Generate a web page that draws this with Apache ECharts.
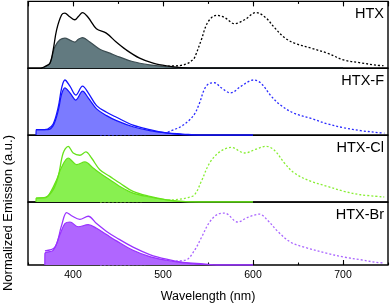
<!DOCTYPE html>
<html><head><meta charset="utf-8">
<script src="https://cdn.jsdelivr.net/npm/echarts@6/dist/echarts.min.js"></script>
<style>html,body{margin:0;padding:0;background:#fff}#c{width:390px;height:304px}</style>
</head><body><div id="c"></div>
<script>
var names = ['HTX', 'HTX-F', 'HTX-Cl', 'HTX-Br'];
var xTicks = [400, 500, 600, 700];

// filled emission curves [nm, normalized]
var fillHTX = [[366,0],[368.8,0.02],[374.4,0.09],[380,0.39],[385.5,0.51],[391,0.54],[397,0.5],[402,0.47],[406,0.52],[410.6,0.55],[418.7,0.47],[429.8,0.34],[441,0.27],[452,0.2],[466,0.12],[485,0.06],[502,0.03],[518,0.005],[540,0],[700,0]];
var upperHTX = [[365,0],[368.8,0.03],[374.4,0.09],[378,0.33],[381.8,0.69],[387.4,0.96],[391,0.99],[396,0.93],[402,0.87],[406,0.93],[410.6,1.0],[416.5,0.92],[426,0.71],[437,0.63],[448,0.47],[459,0.33],[474,0.18],[489,0.09],[504,0.04],[520,0.01],[540,0],[700,0]];
var dashHTX = [[430,0],[470,0.01],[496,0.03],[510,0.04],[520,0.05],[528,0.09],[533,0.15],[535.1,0.19],[542.6,0.51],[549.6,0.82],[559.2,0.95],[568.4,0.91],[579.5,0.80],[590.6,0.87],[603.5,1.0],[614.6,0.90],[623.8,0.73],[634.9,0.55],[646,0.45],[664.5,0.36],[682.6,0.27],[701.4,0.145],[719.9,0.096],[736.6,0.055],[745,0.045]];

var fillF = [[358.9,0],[359,0.1],[368,0.1],[372,0.1],[378,0.17],[383.6,0.44],[387.4,0.74],[391,0.85],[396.6,0.76],[403.2,0.63],[410.6,0.79],[416.9,0.67],[426.2,0.47],[437.3,0.35],[448.3,0.26],[466.7,0.15],[485.3,0.08],[503.8,0.04],[521.8,0.02],[540,0],[600,0]];
var upperF = [[359,0.1],[368,0.1],[372,0.11],[378,0.2],[383.6,0.5],[387.4,0.85],[391,0.99],[396.6,0.88],[403.2,0.72],[410.6,0.88],[416.9,0.76],[426.2,0.53],[437.3,0.41],[448.3,0.32],[466.7,0.18],[485.3,0.1],[503.8,0.04],[520,0.01],[540,0],[600,0]];
var dashF = [[430,0],[480,0.01],[500,0.03],[510.8,0.09],[518.5,0.14],[528,0.25],[535.1,0.38],[540.7,0.58],[546.2,0.83],[551.8,0.93],[557.3,0.94],[564.7,0.85],[575,0.76],[586.9,0.88],[596,0.97],[600.9,0.99],[609,0.93],[620.2,0.7],[631.3,0.53],[646,0.39],[664.5,0.30],[682.9,0.2],[701.4,0.13],[719.9,0.08],[742.1,0.04],[746,0.035]];

var fillCl = [[358.9,0],[359,0.07],[370,0.08],[374.4,0.16],[381.8,0.40],[387.4,0.63],[394.7,0.79],[400,0.72],[404,0.67],[413.2,0.72],[422.4,0.61],[429.8,0.52],[440.9,0.40],[452,0.28],[466.7,0.16],[485.3,0.09],[503.8,0.04],[520,0.01],[540,0],[600,0]];
var upperCl = [[359,0.07],[370,0.09],[378,0.22],[383.6,0.46],[389.1,0.88],[394.7,1.0],[400.2,0.88],[407.6,0.84],[414.3,0.9],[420.6,0.79],[429.8,0.58],[440.9,0.46],[452,0.34],[466.7,0.19],[485.3,0.1],[503.8,0.04],[520,0.01],[540,0],[600,0]];
var dashCl = [[430,0],[480,0.01],[505,0.03],[518.5,0.05],[528,0.08],[535.1,0.13],[542.6,0.37],[551.8,0.70],[562.9,0.9],[575.8,0.98],[590.6,0.88],[603.5,0.95],[614.6,1.0],[623.8,0.93],[634.9,0.70],[646,0.52],[664.5,0.37],[682.9,0.28],[701.4,0.19],[719.9,0.13],[745.8,0.09]];

var fillBr = [[368.7,0],[368.8,0.22],[378,0.28],[385.5,0.58],[391,0.79],[396.6,0.82],[405.8,0.73],[416.9,0.77],[426.2,0.70],[437.3,0.58],[448.3,0.46],[466.7,0.28],[485.3,0.16],[503.8,0.09],[522.2,0.04],[545,0.01],[560,0],[600,0]];
var upperBr = [[368.8,0.27],[379.9,0.34],[387.4,0.76],[392.9,1.0],[398.4,0.94],[407.6,0.87],[416.9,0.93],[426.2,0.79],[437.3,0.64],[448.3,0.52],[466.7,0.34],[485.3,0.2],[503.8,0.11],[522.2,0.05],[545,0.02],[560,0],[600,0]];
var dashBr = [[430,0],[480,0.01],[500,0.03],[511.1,0.07],[526,0.10],[535,0.28],[542.6,0.52],[551.8,0.82],[561,0.97],[568.4,0.99],[583.1,0.82],[594.2,0.91],[607.2,0.97],[616.4,0.85],[627.5,0.64],[642.3,0.43],[657.1,0.34],[682.9,0.22],[701.4,0.15],[719.9,0.1],[736.6,0.05],[745,0.04]];

var fills = [fillHTX, fillF, fillCl, fillBr];
var uppers = [upperHTX, upperF, upperCl, upperBr];
var dashes = [dashHTX, dashF, dashCl, dashBr];

var fillColor = ['#627a80', '#7b7bff', '#88f050', '#b066ff'];
var edgeColor = ['#3c4d52', '#1414ff', '#66e21a', '#9933ff'];
var upperColor = ['#000000', '#1414ff', '#66e21a', '#9933ff'];
var dashColor = ['#000000', '#2a2aff', '#88ee33', '#aa66ff'];

var FONT = 'Liberation Sans, Arial, sans-serif';
var tops = [1.4, 68.3, 135.2, 202.1];
var H = 66.8;

var grids = [], xAxes = [], yAxes = [], series = [], graphics = [];
for (var i = 0; i < 4; i++) {
  grids.push({left: 28, right: 2, top: tops[i], height: H, show: true, borderColor: '#000', borderWidth: 1.4, backgroundColor: 'transparent'});
  xAxes.push({
    type: 'value', gridIndex: i, min: 350, max: 750, position: 'bottom',
    show: i === 3,
    axisLine: {show: false},
    axisTick: {show: true, inside: true, length: 5, lineStyle: {color: '#000', width: 1.1}},
    axisLabel: {show: true, showMinLabel: false, showMaxLabel: false, fontSize: 10.5, color: '#000', fontFamily: FONT, margin: 5,
      formatter: function (v) { return xTicks.indexOf(v) >= 0 ? String(v) : ''; }},
    splitLine: {show: false},
    name: i === 3 ? 'Wavelength (nm)' : '', nameLocation: 'middle', nameGap: 25,
    nameTextStyle: {fontSize: 12.5, color: '#000', fontFamily: FONT}
  });
  yAxes.push({type: 'value', gridIndex: i, min: 0, max: 1.2, show: false, splitLine: {show: false}});
}
// extra tick axes
xAxes.push({type: 'value', gridIndex: 0, min: 350, max: 750, position: 'top',
  axisLine: {show: false}, axisLabel: {show: false}, splitLine: {show: false},
  axisTick: {show: true, inside: true, length: 5, lineStyle: {color: '#000', width: 1.1}}});
xAxes.push({type: 'value', gridIndex: 0, min: 350, max: 750, interval: 50, position: 'top',
  axisLine: {show: false}, axisLabel: {show: false}, splitLine: {show: false},
  axisTick: {show: true, inside: true, length: 2.5, lineStyle: {color: '#000', width: 1.1}}});
xAxes.push({type: 'value', gridIndex: 3, min: 350, max: 750, interval: 50, position: 'bottom',
  axisLine: {show: false}, axisLabel: {show: false}, splitLine: {show: false},
  axisTick: {show: true, inside: true, length: 2.5, lineStyle: {color: '#000', width: 1.1}}});

for (var i = 0; i < 4; i++) {
  series.push({type: 'line', xAxisIndex: i, yAxisIndex: i, data: dashes[i], smooth: 0.35, symbol: 'none',
    lineStyle: {color: dashColor[i], width: 1.3, type: [2, 2]}, z: 2});
  series.push({type: 'line', xAxisIndex: i, yAxisIndex: i, data: fills[i], smooth: 0.35, symbol: 'none',
    lineStyle: {color: edgeColor[i], width: 1.2}, areaStyle: {color: fillColor[i], opacity: 1}, z: 3});
  series.push({type: 'line', xAxisIndex: i, yAxisIndex: i, data: uppers[i], smooth: 0.35, symbol: 'none',
    lineStyle: {color: upperColor[i], width: 1.3}, z: 4});
  graphics.push({type: 'text', right: 6, top: tops[i] + 5, z: 100,
    style: {text: names[i], fontSize: 14.5, fontFamily: FONT, fill: '#000', textAlign: 'right'}});
}
graphics.push({type: 'text', left: 2, top: 135, rotation: Math.PI / 2, originX: 0, originY: 0, z: 100,
  style: {text: 'Normalized Emission (a.u.)', fontSize: 13, fontFamily: FONT, fill: '#000', textAlign: 'center', textVerticalAlign: 'top'}});

var chart = echarts.init(document.getElementById('c'), null, {renderer: 'canvas'});
chart.setOption({
  animation: false,
  grid: grids, xAxis: xAxes, yAxis: yAxes, series: series, graphic: graphics
});
</script></body></html>
